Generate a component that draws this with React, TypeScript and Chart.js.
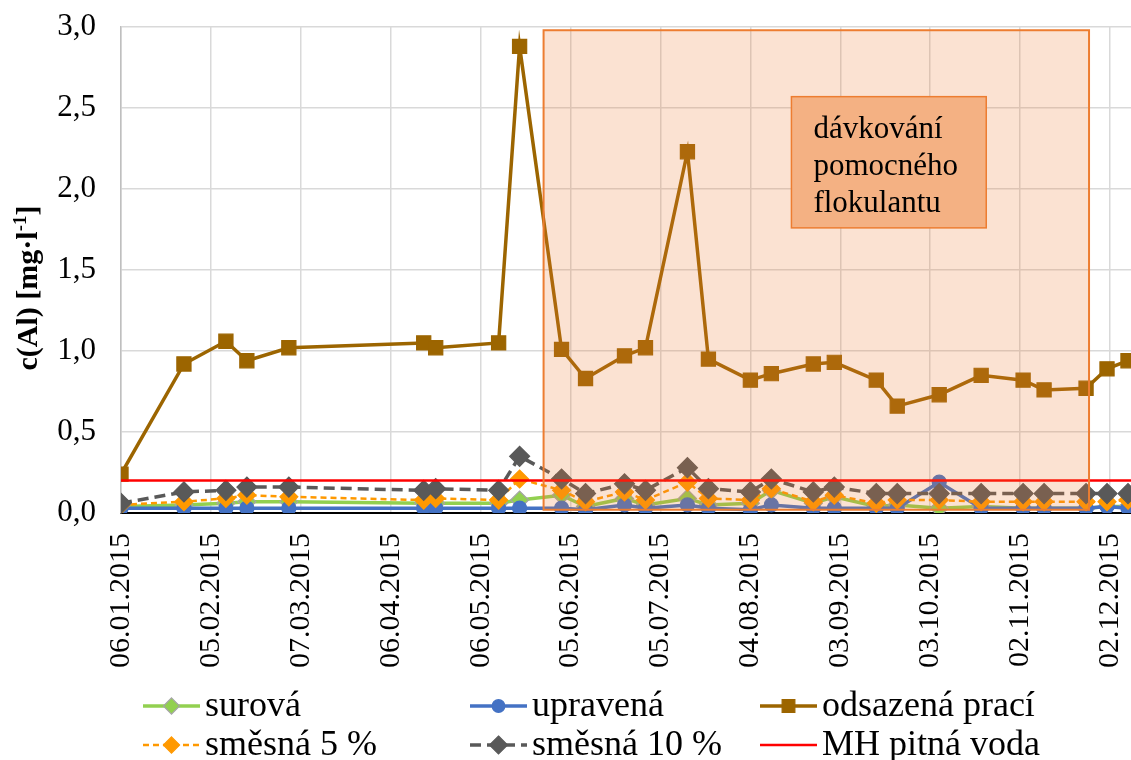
import React, { useEffect, useRef } from "react";
import { Chart, registerables } from "chart.js";

Chart.register(...registerables);

// ---------- DATA ----------
const startDate = "06.01.2015";
const axisEndDate = "09.12.2015";

const tickLabels = [
  "06.01.2015", "05.02.2015", "07.03.2015", "06.04.2015", "06.05.2015", "05.06.2015",
  "05.07.2015", "04.08.2015", "03.09.2015", "03.10.2015", "02.11.2015", "02.12.2015",
];

const sampleDates = [
  "06.01.2015", "27.01.2015", "10.02.2015", "17.02.2015", "03.03.2015", "17.04.2015",
  "21.04.2015", "12.05.2015", "19.05.2015", "02.06.2015", "10.06.2015", "23.06.2015",
  "30.06.2015", "14.07.2015", "21.07.2015", "04.08.2015", "11.08.2015", "25.08.2015",
  "01.09.2015", "15.09.2015", "22.09.2015", "06.10.2015", "20.10.2015", "03.11.2015",
  "10.11.2015", "24.11.2015", "01.12.2015", "08.12.2015",
];

const surova = [
  0.04, 0.05, 0.06, 0.07, 0.07, 0.06, 0.06, 0.06, 0.08, 0.11, 0.04, 0.09, 0.05, 0.09,
  0.05, 0.06, 0.14, 0.06, 0.10, 0.04, 0.05, 0.03, 0.04, 0.03, 0.03, 0.03, 0.04, 0.04,
];
const upravena = [
  0.03, 0.03, 0.03, 0.03, 0.03, 0.03, 0.03, 0.03, 0.03, 0.03, 0.02, 0.05, 0.03, 0.05,
  0.03, 0.02, 0.05, 0.03, 0.03, 0.03, 0.03, 0.19, 0.03, 0.03, 0.03, 0.03, 0.04, 0.03,
];
const odsazena = [
  0.24, 0.92, 1.06, 0.94, 1.02, 1.05, 1.02, 1.05, 2.88, 1.01, 0.83, 0.97, 1.02, 2.23,
  0.95, 0.82, 0.86, 0.92, 0.93, 0.82, 0.66, 0.73, 0.85, 0.82, 0.76, 0.77, 0.89, 0.94,
];
const smesna5 = [
  0.05, 0.07, 0.09, 0.11, 0.10, 0.08, 0.09, 0.08, 0.21, 0.14, 0.07, 0.13, 0.08, 0.19,
  0.09, 0.08, 0.15, 0.07, 0.11, 0.06, 0.08, 0.08, 0.07, 0.07, 0.07, 0.07, 0.07, 0.08,
];
const smesna10 = [
  0.06, 0.13, 0.14, 0.16, 0.16, 0.14, 0.15, 0.14, 0.35, 0.21, 0.12, 0.18, 0.14, 0.28,
  0.15, 0.13, 0.21, 0.13, 0.16, 0.12, 0.12, 0.12, 0.12, 0.12, 0.12, 0.12, 0.12, 0.12,
];
const mhLimit = 0.2;

const seriesNames = ["surová", "upravená", "odsazená prací", "směsná 5 %", "směsná 10 %", "MH pitná voda"];
const yAxisTitle = ["c(Al) [mg·l", "-1", "]"];
const dosingStart = "27.05.2015";
const dosingEnd = "25.11.2015";
const dosingLabel = ["dávkování", "pomocného", "flokulantu"];

// ---------- HELPERS ----------
const FONT = "'Liberation Serif', 'Times New Roman', serif";
const parseDate = (s: string) => {
  const [d, m, y] = s.split(".").map(Number);
  return Date.UTC(y, m - 1, d);
};
const DAY = 86400000;
const toDay = (s: string) => Math.round((parseDate(s) - parseDate(startDate)) / DAY);
const fmtDay = (v: number) => {
  const dt = new Date(parseDate(startDate) + Math.round(v) * DAY);
  const p = (n: number) => String(n).padStart(2, "0");
  return `${p(dt.getUTCDate())}.${p(dt.getUTCMonth() + 1)}.${dt.getUTCFullYear()}`;
};
const xs = sampleDates.map(toDay);
const pts = (arr: number[]) => arr.map((v, i) => ({ x: xs[i], y: v }));

const styles = [
  { color: "#92D050", fill: "#92D050", stroke: "#A5A5A5", point: "rectRot", r: 9, w: 3.5, dash: [] as number[] },
  { color: "#4472C4", fill: "#4472C4", stroke: "#4472C4", point: "circle", r: 7, w: 3.5, dash: [] as number[] },
  { color: "#9C6500", fill: "#9C6500", stroke: "#9C6500", point: "rect", r: 10, w: 3.5, dash: [] as number[] },
  { color: "#FF9900", fill: "#FF9900", stroke: "#FF9900", point: "rectRot", r: 9, w: 2.5, dash: [6, 4] },
  { color: "#595959", fill: "#595959", stroke: "#595959", point: "rectRot", r: 10, w: 3.5, dash: [11, 6] },
  { color: "#FF0000", fill: "#FF0000", stroke: "#FF0000", point: "none", r: 0, w: 2.5, dash: [] as number[] },
];

function drawMarker(ctx: CanvasRenderingContext2D, kind: string, x: number, y: number, r: number, fill: string, stroke: string) {
  if (kind === "none") return;
  ctx.save();
  ctx.setLineDash([]);
  ctx.beginPath();
  if (kind === "circle") ctx.arc(x, y, r, 0, Math.PI * 2);
  else if (kind === "rect") {
    const s = r * Math.SQRT1_2;
    ctx.rect(x - s, y - s, 2 * s, 2 * s);
  } else {
    ctx.moveTo(x, y - r);
    ctx.lineTo(x + r, y);
    ctx.lineTo(x, y + r);
    ctx.lineTo(x - r, y);
    ctx.closePath();
  }
  ctx.fillStyle = fill;
  ctx.fill();
  ctx.lineWidth = 1.2;
  ctx.strokeStyle = stroke;
  ctx.stroke();
  ctx.restore();
}

const overlayPlugin = {
  id: "overlay",
  afterDatasetsDraw(chart: any) {
    const { ctx } = chart;
    const x = chart.scales.x;
    const y = chart.scales.y;
    ctx.save();
    // dosing period area
    const x0 = x.getPixelForValue(toDay(dosingStart));
    const x1 = x.getPixelForValue(toDay(dosingEnd));
    const y0 = y.getPixelForValue(2.98);
    const y1 = y.getPixelForValue(0.02);
    ctx.fillStyle = "rgba(237,125,49,0.22)";
    ctx.fillRect(x0, y0, x1 - x0, y1 - y0);
    ctx.strokeStyle = "#ED7D31";
    ctx.lineWidth = 2;
    ctx.strokeRect(x0, y0, x1 - x0, y1 - y0);
    // label box
    const bx0 = x.getPixelForValue(223.7);
    const bx1 = x.getPixelForValue(288.7);
    const by0 = y.getPixelForValue(2.57);
    const by1 = y.getPixelForValue(1.76);
    ctx.fillStyle = "#F4B183";
    ctx.fillRect(bx0, by0, bx1 - bx0, by1 - by0);
    ctx.lineWidth = 1.5;
    ctx.strokeRect(bx0, by0, bx1 - bx0, by1 - by0);
    ctx.fillStyle = "#000";
    ctx.font = `31px ${FONT}`;
    ctx.textBaseline = "alphabetic";
    ctx.textAlign = "left";
    dosingLabel.forEach((t, i) => ctx.fillText(t, bx0 + 22, by0 + 41 + i * 37));
    ctx.restore();
  },
  afterDraw(chart: any) {
    const { ctx, chartArea } = chart;
    // y-axis title (with superscript)
    ctx.save();
    ctx.translate(27, (chartArea.top + chartArea.bottom) / 2 + 18);
    ctx.rotate(-Math.PI / 2);
    ctx.fillStyle = "#000";
    ctx.textBaseline = "alphabetic";
    ctx.textAlign = "left";
    const mainFont = `bold 30px ${FONT}`;
    const supFont = `bold 19px ${FONT}`;
    ctx.font = mainFont;
    const w0 = ctx.measureText(yAxisTitle[0]).width;
    const w2 = ctx.measureText(yAxisTitle[2]).width;
    ctx.font = supFont;
    const w1 = ctx.measureText(yAxisTitle[1]).width;
    let cx = -(w0 + w1 + w2) / 2;
    const base = 10;
    ctx.font = mainFont;
    ctx.fillText(yAxisTitle[0], cx, base);
    cx += w0;
    ctx.font = supFont;
    ctx.fillText(yAxisTitle[1], cx, base - 11);
    cx += w1;
    ctx.font = mainFont;
    ctx.fillText(yAxisTitle[2], cx, base);
    ctx.restore();

    // legend
    const colX = [143, 470, 760];
    const rowY = [706, 745];
    ctx.save();
    seriesNames.forEach((name, i) => {
      const s = styles[i];
      const lx = colX[i % 3];
      const ly = rowY[Math.floor(i / 3)];
      ctx.beginPath();
      ctx.setLineDash(s.dash);
      ctx.strokeStyle = s.color;
      ctx.lineWidth = s.w;
      ctx.moveTo(lx, ly);
      ctx.lineTo(lx + 57, ly);
      ctx.stroke();
      drawMarker(ctx, s.point, lx + 28.5, ly, s.r * 0.9, s.fill, s.stroke);
      ctx.setLineDash([]);
      ctx.fillStyle = "#000";
      ctx.font = `36px ${FONT}`;
      ctx.textBaseline = "middle";
      ctx.textAlign = "left";
      ctx.fillText(name, lx + 62, ly + 1);
    });
    ctx.restore();
  },
};

export default function App() {
  const ref = useRef<HTMLCanvasElement | null>(null);
  useEffect(() => {
    if (!ref.current) return;
    const xMax = toDay(axisEndDate);
    const seriesData = [surova, upravena, odsazena, smesna5, smesna10];
    const orders = [5, 4, 3, 2, 1];
    const datasets: any[] = seriesData.map((arr, i) => {
      const s = styles[i];
      return {
        label: seriesNames[i],
        data: pts(arr),
        borderColor: s.color,
        backgroundColor: s.fill,
        borderWidth: s.w,
        borderDash: s.dash,
        pointStyle: s.point,
        pointRadius: s.r,
        pointBackgroundColor: s.fill,
        pointBorderColor: s.stroke,
        pointBorderWidth: 1.2,
        tension: 0,
        order: orders[i],
      };
    });
    datasets.push({
      label: seriesNames[5],
      data: [
        { x: 0, y: mhLimit },
        { x: xMax, y: mhLimit },
      ],
      borderColor: styles[5].color,
      borderWidth: styles[5].w,
      pointRadius: 0,
      order: 0,
    });

    const chart = new Chart(ref.current, {
      type: "line",
      data: { datasets },
      plugins: [overlayPlugin],
      options: {
        responsive: false,
        animation: false,
        layout: { autoPadding: false, padding: { top: 27, right: 0, bottom: 92, left: 0 } },
        plugins: { legend: { display: false }, tooltip: { enabled: false } },
        scales: {
          x: {
            type: "linear",
            min: 0,
            max: xMax,
            afterBuildTicks: (scale: any) => {
              scale.ticks = tickLabels.map((l) => ({ value: toDay(l) }));
            },
            afterFit: (scale: any) => {
              scale.height = 760 - 92 - 513;
              scale.paddingLeft = 0;
              scale.paddingRight = 0;
            },
            ticks: {
              autoSkip: false,
              minRotation: 90,
              maxRotation: 90,
              padding: 20,
              color: "#000",
              font: { family: FONT, size: 30 },
              callback: (v: any) => fmtDay(Number(v)),
            },
            grid: { color: "#D9D9D9", lineWidth: 1.5, drawTicks: false },
            border: { color: "#000", width: 2 },
          },
          y: {
            type: "linear",
            min: 0,
            max: 3,
            afterFit: (scale: any) => {
              scale.width = 121;
              scale.paddingTop = 0;
              scale.paddingBottom = 0;
            },
            ticks: {
              stepSize: 0.5,
              padding: 25,
              color: "#000",
              font: { family: FONT, size: 31 },
              callback: (v: any) => Number(v).toFixed(1).replace(".", ","),
            },
            grid: { color: "#D9D9D9", lineWidth: 1.5, drawTicks: false },
            border: { color: "#BFBFBF", width: 1.5 },
          },
        },
      },
    } as any);
    return () => chart.destroy();
  }, []);

  return (
    <div style={{ position: "fixed", left: 0, top: 0, width: 1131, height: 760, overflow: "hidden", background: "#fff" }}>
      <canvas ref={ref} width={1131} height={760} style={{ display: "block" }} />
    </div>
  );
}
